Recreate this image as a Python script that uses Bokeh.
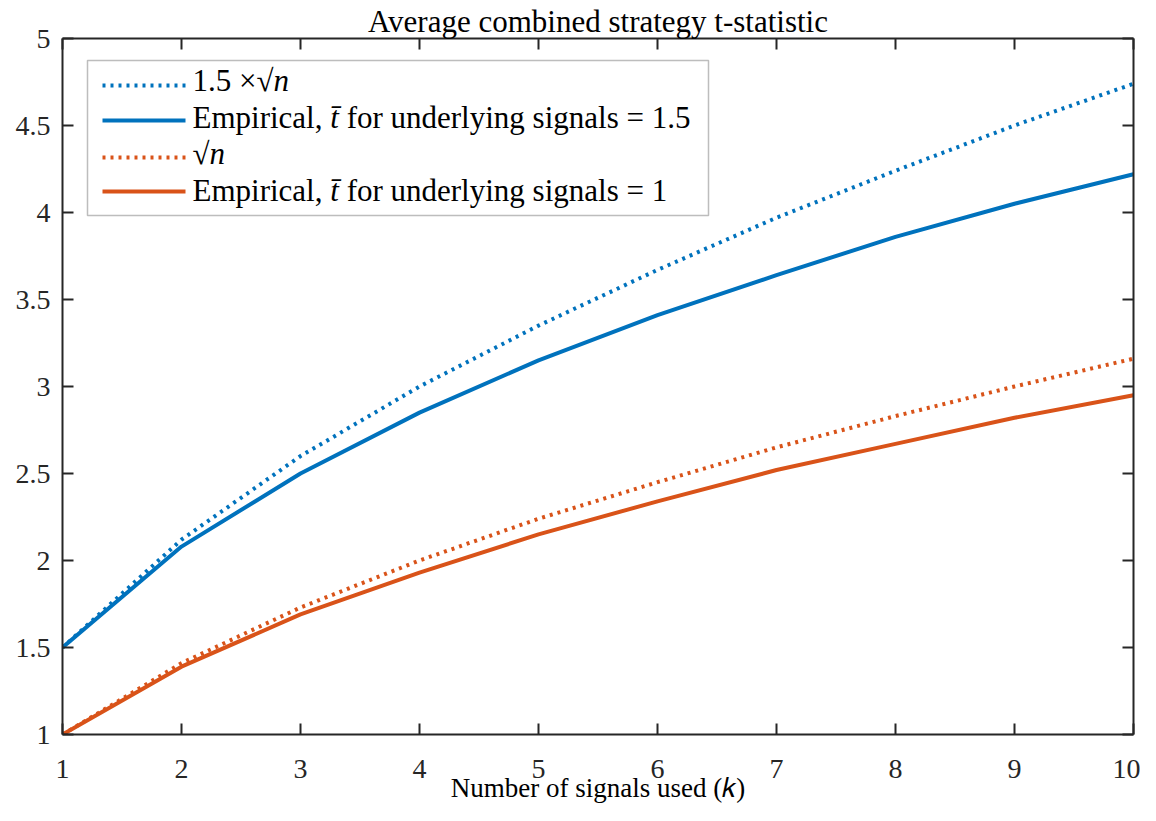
from bokeh.plotting import figure
from bokeh.models import (Range1d, LinearAxis, FixedTicker, Label, Arrow,
                          BoxAnnotation)
from bokeh.embed import file_html
from bokeh.resources import INLINE

# ---- data ----
k = [1, 2, 3, 4, 5, 6, 7, 8, 9, 10]
theory_15 = [1.50, 2.12, 2.60, 3.00, 3.35, 3.67, 3.97, 4.24, 4.50, 4.74]
empirical_15 = [1.50, 2.08, 2.50, 2.85, 3.15, 3.41, 3.64, 3.86, 4.05, 4.22]
theory_1 = [1.00, 1.41, 1.73, 2.00, 2.24, 2.45, 2.65, 2.83, 3.00, 3.16]
empirical_1 = [1.00, 1.39, 1.69, 1.93, 2.15, 2.34, 2.52, 2.67, 2.82, 2.95]

x_ticks = [1, 2, 3, 4, 5, 6, 7, 8, 9, 10]
y_ticks = [1, 1.5, 2, 2.5, 3, 3.5, 4, 4.5, 5]
y_tick_labels = ["1", "1.5", "2", "2.5", "3", "3.5", "4", "4.5", "5"]

legend_labels = [
    [("1.5 \u00d7", "normal"), ("\u221a", "normal"), ("n", "italic")],
    [("Empirical, ", "normal"), ("t\u0304", "italic"), (" for underlying signals = 1.5", "normal")],
    [("\u221a", "normal"), ("n", "italic")],
    [("Empirical, ", "normal"), ("t\u0304", "italic"), (" for underlying signals = 1", "normal")],
]

BLUE = "#0072BD"
ORANGE = "#D95319"
AX = "#262626"
FONT = "Liberation Serif"

p = figure(width=1140, height=805, output_backend="svg", toolbar_location=None,
           x_range=Range1d(1, 10), y_range=Range1d(1, 5),
           title="Average combined strategy t-statistic",
           min_border_left=62, min_border_right=7,
           min_border_top=38, min_border_bottom=69)

p.title.align = "center"
p.title.text_font = FONT
p.title.text_font_size = "31px"
p.title.text_font_style = "normal"
p.title.text_color = "#000000"
p.title.standoff = 0
p.title.offset = 0

p.xgrid.visible = False
p.ygrid.visible = False
p.outline_line_color = None

def style_axis(ax, show_labels, ticks):
    ax.axis_line_color = AX
    ax.axis_line_width = 2
    ax.major_tick_line_color = AX
    ax.major_tick_line_width = 2
    ax.major_tick_in = 11
    ax.major_tick_out = 0
    ax.minor_tick_line_color = None
    ax.major_label_text_font = FONT
    ax.major_label_text_color = AX
    ax.major_label_text_font_size = "28px"
    if show_labels:
        ax.major_label_standoff = 12
    else:
        ax.major_label_standoff = 0
        ax.major_label_overrides = {t: "" for t in ticks}

xa = p.xaxis[0]
ya = p.yaxis[0]
xa.ticker = FixedTicker(ticks=x_ticks)
ya.ticker = FixedTicker(ticks=y_ticks)
style_axis(xa, True, x_ticks)
style_axis(ya, True, y_ticks)
xa.major_label_standoff = 25
ya.major_label_overrides = {t: l for t, l in zip(y_ticks, y_tick_labels)}
xa.axis_label = "Number of signals used (\U0001D458)"
xa.axis_label_text_font = FONT
xa.axis_label_text_font_size = "27px"
xa.axis_label_text_font_style = "normal"
xa.axis_label_text_color = "#000000"
xa.axis_label_standoff = -8

top = LinearAxis(ticker=FixedTicker(ticks=x_ticks))
right = LinearAxis(ticker=FixedTicker(ticks=y_ticks))
style_axis(top, False, x_ticks)
style_axis(right, False, y_ticks)
p.add_layout(top, "above")
p.add_layout(right, "right")

series = [(theory_15, BLUE, "3 5"), (empirical_15, BLUE, None),
          (theory_1, ORANGE, "3 5"), (empirical_1, ORANGE, None)]
for vals, col, dash in series:
    if dash:
        p.line(k, vals, line_color=col, line_width=4, line_dash=dash)
    else:
        p.line(k, vals, line_color=col, line_width=4)

# ---- legend (drawn with annotations in frame screen units) ----
LEG_FS = 31
W = {" ": .25, ".": .25, ",": .25, "\u00d7": .564, "\u221a": .55, "=": .564,
     "E": .611, "m": .778, "p": .5, "i": .278, "r": .333, "c": .444, "a": .444,
     "l": .278, "t": .278, "f": .333, "o": .5, "u": .5, "n": .5, "d": .5,
     "e": .444, "y": .5, "g": .5, "s": .389, "\u0304": 0.0}

def seg_w(s):
    return sum(W.get(ch, .5) for ch in s) * LEG_FS

p.add_layout(BoxAnnotation(left=25, right=646, bottom=519, top=674,
                           left_units="screen", right_units="screen",
                           bottom_units="screen", top_units="screen",
                           fill_color="white", fill_alpha=1.0,
                           line_color=AX, line_width=1.5))
line_y = [649, 614, 577, 543]
text_y = [637, 600, 564, 527]
for (vals, col, dash), segs, ly, ty in zip(series, legend_labels, line_y, text_y):
    kw = dict(line_color=col, line_width=4)
    if dash:
        kw["line_dash"] = dash
    p.add_layout(Arrow(end=None, x_start=40, y_start=ly, x_end=123, y_end=ly,
                       start_units="screen", end_units="screen", **kw))
    xx = 130
    for txt, style in segs:
        lead = len(txt) - len(txt.lstrip(" "))
        shown = txt.strip(" ")
        lbl = dict(x=xx + seg_w(" " * lead), y=ty, x_units="screen", y_units="screen",
                   text=shown, text_font=FONT, text_font_size=f"{LEG_FS}px",
                   text_color="#000000")
        if style == "italic":
            lbl["text_font_style"] = "italic"
        p.add_layout(Label(**lbl))
        xx += seg_w(txt)

open("out.html", "w").write(file_html(p, INLINE))
